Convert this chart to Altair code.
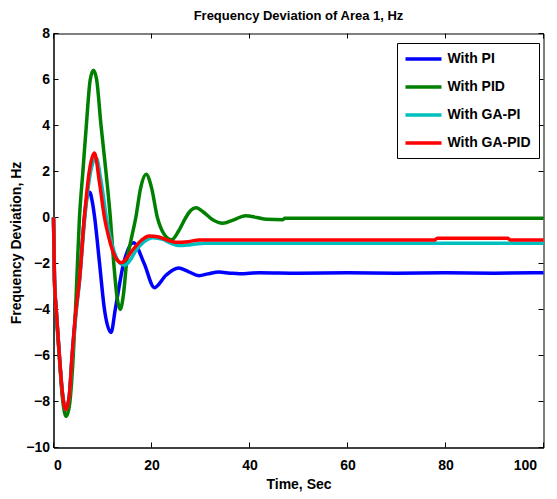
import altair as alt
import pandas as pd

# ---- data ----
series_names = ["With PI", "With PID", "With GA-PI", "With GA-PID"]
series_colors = ["#0000FF", "#008000", "#00BFBF", "#FF0000"]

t_pi = [0, 0.2, 0.55, 1.2, 1.8, 2.5, 3.2, 3.8, 4.6, 5.3, 6.3, 6.8, 7.4, 7.9, 8.4, 9.4, 10.4,
        11.75, 12.6, 14.3, 16.3, 18.5, 20.6, 23.0, 25.5, 27.5, 29.7, 31.5, 33.8, 36, 38, 42,
        50, 60, 70, 80, 90, 100]
y_pi = [0, -2.7, -4.0, -6.0, -7.6, -8.35, -7.8, -6.0, -4.0, -2.7, 0.0, 0.85, 1.1, 0.7, 0.0,
        -2.0, -4.0, -5.0, -4.0, -2.0, -1.1, -2.0, -3.05, -2.5, -2.2, -2.35, -2.53, -2.45,
        -2.37, -2.42, -2.45, -2.4, -2.42, -2.4, -2.42, -2.4, -2.42, -2.4]

t_pid = [0, 0.2, 0.55, 1.2, 1.8, 2.6, 3.3, 3.9, 4.6, 5.3, 6.0, 6.7, 7.5, 8.15, 8.8, 9.7,
         10.7, 11.6, 12.3, 13.0, 13.6, 14.3, 14.9, 15.8, 16.8, 17.8, 18.9, 20.0, 21.2, 22.5,
         24.1, 25.5, 27.0, 28.0, 29.1, 30.5, 32.5, 34.5, 36.8, 39.2, 41.5, 43.5, 46.8, 47.2,
         60, 80, 100]
y_pid = [0, -2.7, -4.1, -6.1, -7.8, -8.65, -8.1, -6.5, -3.5, 0.0, 2.0, 4.0, 6.0, 6.4, 6.0,
         4.0, 2.0, 0.0, -2.0, -3.5, -4.0, -3.3, -2.0, -1.0, 0.0, 1.3, 1.88, 1.3, 0.0, -0.7,
         -0.97, -0.6, 0.0, 0.3, 0.42, 0.25, -0.1, -0.25, -0.1, 0.08, 0.0, -0.08, -0.1, -0.03,
         -0.03, -0.03, -0.03]

t_gapi = [0, 0.2, 0.55, 1.2, 1.8, 2.5, 3.2, 3.8, 4.6, 5.3, 6.4, 7.5, 8.7, 9.7, 10.8, 11.6,
          12.4, 13.4, 14.5, 15.5, 16.8, 18.5, 20.3, 22.3, 24.0, 25.7, 28, 31, 40, 60, 100]
y_gapi = [0, -2.7, -4.0, -6.0, -7.6, -8.35, -7.8, -6.1, -4.2, -2.8, 0.0, 1.9, 2.6, 1.6, 0.0,
          -0.9, -1.5, -1.95, -2.08, -1.9, -1.45, -1.05, -0.88, -0.95, -1.12, -1.22, -1.18,
          -1.12, -1.12, -1.12, -1.12]

t_gapid = [0, 0.2, 0.55, 1.2, 1.8, 2.5, 3.2, 3.8, 4.6, 5.3, 6.3, 7.3, 8.35, 9.4, 10.4, 11.2,
           12.0, 13.0, 13.9, 14.8, 16.2, 17.9, 19.5, 21.5, 23.5, 25.0, 27.5, 29.7, 35, 50,
           77.8, 78.3, 92.7, 93.2, 100]
y_gapid = [0, -2.7, -4.0, -6.0, -7.6, -8.35, -7.8, -6.0, -4.0, -2.7, 0.0, 2.0, 2.8, 1.5, 0.0,
           -0.8, -1.4, -1.85, -1.97, -1.8, -1.4, -1.0, -0.8, -0.85, -1.0, -1.08, -1.05, -0.98,
           -0.98, -0.98, -0.98, -0.9, -0.9, -0.98, -0.98]

x_ticks = [0, 20, 40, 60, 80, 100]
y_ticks = [-10, -8, -6, -4, -2, 0, 2, 4, 6, 8]

W, H = 490, 414
FONT = "Liberation Sans"

xscale = alt.Scale(domain=[0, 100], nice=False, zero=False)
yscale = alt.Scale(domain=[-10, 8], nice=False, zero=False)
axis_style = dict(ticks=False, grid=False, domainColor="black", domainWidth=1,
                  labelFont=FONT, labelFontSize=14, labelFontWeight="bold",
                  labelColor="black", titleFont=FONT, titleFontSize=14,
                  titleFontWeight="bold", titleColor="black", format="d")
xaxis = alt.Axis(title="Time, Sec", values=x_ticks, labelPadding=11, titlePadding=5,
                 labelOffset={"condition": {"test": "datum.value === 100", "value": -7},
                              "value": 0},
                 **axis_style)
yaxis = alt.Axis(title="Frequency Deviation, Hz", values=y_ticks, labelPadding=4,
                 titleX=-37, titleY=H / 2 + 2, titleAngle=270, titleBaseline="middle",
                 titleAlign="center", **axis_style)
cscale = alt.Scale(domain=series_names, range=series_colors)
legend = alt.Legend(title=None, orient="none", legendX=343.5, legendY=9.5,
                    symbolType="M-3,0H3", symbolSize=144, symbolStrokeWidth=3.5,
                    symbolOffset=10.5, labelOffset=16, padding=8, rowPadding=13,
                    strokeColor="black", fillColor="white", cornerRadius=0,
                    labelFontSize=14, labelFont=FONT, labelFontWeight="bold",
                    labelColor="black")


def line_layer(name, ts, ys):
    df = pd.DataFrame({"t": ts, "y": ys, "series": name})
    return alt.Chart(df).mark_line(strokeWidth=3.5, interpolate="monotone").encode(
        x=alt.X("t:Q", scale=xscale, axis=xaxis),
        y=alt.Y("y:Q", scale=yscale, axis=yaxis),
        color=alt.Color("series:N", scale=cscale, legend=legend),
    )


layers = [
    line_layer(series_names[0], t_pi, y_pi),
    line_layer(series_names[1], t_pid, y_pid),
    line_layer(series_names[2], t_gapi, y_gapi),
    line_layer(series_names[3], t_gapid, y_gapid),
]

xt = pd.DataFrame({"t": x_ticks})
yt = pd.DataFrame({"y": y_ticks})
tick_len = 5
xtick_bottom = alt.Chart(xt).mark_rule(color="black", strokeWidth=1).encode(
    x=alt.X("t:Q", scale=xscale, axis=xaxis), y=alt.value(H), y2=alt.value(H - tick_len))
xtick_top = alt.Chart(xt).mark_rule(color="black", strokeWidth=1).encode(
    x=alt.X("t:Q", scale=xscale, axis=xaxis), y=alt.value(0), y2=alt.value(tick_len))
ytick_left = alt.Chart(yt).mark_rule(color="black", strokeWidth=1).encode(
    y=alt.Y("y:Q", scale=yscale, axis=yaxis), x=alt.value(0), x2=alt.value(tick_len))
ytick_right = alt.Chart(yt).mark_rule(color="black", strokeWidth=1).encode(
    y=alt.Y("y:Q", scale=yscale, axis=yaxis), x=alt.value(W), x2=alt.value(W - tick_len))

chart = alt.layer(xtick_bottom, xtick_top, ytick_left, ytick_right, *layers).properties(
    width=W, height=H,
    title=alt.TitleParams("Frequency Deviation of Area 1, Hz", fontSize=13, font=FONT,
                          fontWeight="bold", color="black", offset=4, anchor="middle"),
    autosize=alt.AutoSizeParams(type="none"),
    padding={"left": 45.5, "top": 25.5, "right": 5.5, "bottom": 45},
    background="white",
).configure_view(stroke="black", strokeWidth=1)

chart.save("out.html", embed_options={"renderer": "svg", "actions": False})
